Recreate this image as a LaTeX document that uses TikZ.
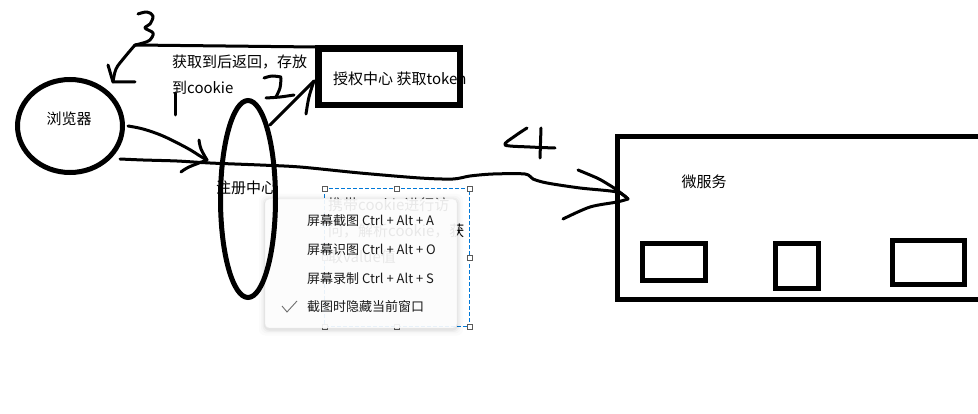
\documentclass[tikz,border=0pt]{standalone}
\usepackage{fontspec}
\setmainfont{Noto Sans CJK SC}
\usetikzlibrary{shapes.geometric}
\definecolor{selblue}{RGB}{0,120,215}
\definecolor{handlegray}{RGB}{90,90,90}
\definecolor{menutext}{RGB}{26,26,26}
\definecolor{checkgray}{RGB}{110,110,110}
\begin{document}
\begin{tikzpicture}[x=1pt,y=-1pt,
  hand/.style={line width=3pt,line cap=round,line join=round},
  thickbox/.style={draw,line width=5pt,inner sep=0pt},
  lbl/.style={font=\fontsize{15}{18}\selectfont,inner sep=0pt},
  menuitem/.style={font=\fontsize{13}{15}\selectfont,text=menutext,inner sep=0pt,anchor=west},
  handle/.style={draw=handlegray,fill=white,line width=0.8pt,minimum size=5pt,inner sep=0pt},
  seldash/.style={draw=selblue,line width=0.9pt,dash pattern=on 4pt off 2pt}
]
\useasboundingbox[fill=white] (0,0) rectangle (978,414);

% selection box with text being edited (below the menu)
\node[lbl,anchor=west] (t1) at (328,205) {携带cookie进行访};
\node[lbl,anchor=west] (t2) at (328,231) {问，解析cookie，获};
\node[lbl,anchor=west] (t3) at (328,257) {取value值};
\coordinate (s1) at (324.5,188.5);
\coordinate (s2) at (469.5,326.5);
\draw[seldash] (s1) rectangle (s2);
\foreach \p/\n in {{(324.5,188.5)}/h1,{(397,188.5)}/h2,{(469.5,188.5)}/h3,{(469.5,257.5)}/h4,{(469.5,326.5)}/h5,{(397,326.5)}/h6,{(324.5,326.5)}/h7,{(324.5,257.5)}/h8}
  \node[handle] (\n) at \p {};

% context menu
\foreach \e/\o in {6/0.015,4/0.02,2.5/0.03,1.2/0.04}
  \fill[black,opacity=\o,rounded corners=6pt] (265-\e,199-\e+1) rectangle (457+\e,328+\e+1.5);
\node[draw=black!8,fill=white,fill opacity=0.91,rounded corners=4pt,minimum width=192pt,minimum height=129pt,inner sep=0pt] (menu) at (361,263.5) {};
\node[menuitem] (m1) at (307,221) {屏幕截图 Ctrl + Alt + A};
\node[menuitem] (m2) at (307,250) {屏幕识图 Ctrl + Alt + O};
\node[menuitem] (m3) at (307,279) {屏幕录制 Ctrl + Alt + S};
\node[menuitem] (m4) at (307,307) {截图时隐藏当前窗口};
\coordinate (c1) at (282,306);
\coordinate (c2) at (287,312);
\coordinate (c3) at (297,301);
\draw[checkgray,line width=0.9pt] (c1) -- (c2) -- (c3);

% main shapes
\node[ellipse,draw,line width=5pt,minimum width=105pt,minimum height=93pt,inner sep=0pt] (browser) at (70,126) {};
\node[ellipse,draw,line width=5pt,minimum width=55pt,minimum height=197pt,inner sep=0pt] (reg) at (248,199) {};
\node[thickbox,line width=6.5pt,minimum width=141.5pt,minimum height=56.5pt] (auth) at (389.25,76.75) {};
\node[thickbox,minimum width=372.5pt,minimum height=163pt] (ms) at (803.75,218.5) {};
\node[thickbox,minimum width=63pt,minimum height=37pt] (b1) at (674,262) {};
\node[thickbox,minimum width=43pt,minimum height=45pt] (b2) at (797,266) {};
\node[thickbox,minimum width=72pt,minimum height=44pt] (b3) at (928.5,262.5) {};

% labels
\node[lbl] (lb) at (69,119) {浏览器};
\node[lbl] (lr) at (246,188) {注册中心};
\node[lbl,anchor=west] (la) at (333,79) {授权中心 获取token};
\node[lbl] (lm) at (704,182) {微服务};
\node[lbl,anchor=west] (n1) at (172,62) {获取到后返回，存放};
\node[lbl,anchor=west] (n2) at (172,88) {到cookie};

% hand drawn strokes
% arrow 1: browser -> register centre
\coordinate (a1s) at (128,126);
\coordinate (a1e) at (207,160);
\draw[hand] plot[smooth,tension=0.6] coordinates {(a1s) (143,129) (163,136) (187,148) (200,156) (a1e)};
\draw[hand] plot[smooth,tension=0.6] coordinates {(199,140) (201,149) (a1e)};
\draw[hand] plot[smooth,tension=0.6] coordinates {(181,172) (189,167) (a1e)};
% digit 1
\coordinate (d1a) at (175,93);
\coordinate (d1b) at (175,115);
\draw[hand] (d1a) -- (d1b);

% arrow 2: register centre -> auth
\coordinate (a2s) at (270,125);
\coordinate (a2e) at (314,81);
\draw[hand] (a2s) -- (a2e);
\draw[hand] plot[smooth,tension=0.6] coordinates {(306,114) (309,97) (a2e)};
% digit 2
\draw[hand] plot[smooth,tension=0.5] coordinates {(264,78) (272,76) (281,77)};
\draw[hand] plot[smooth,tension=0.5] coordinates {(281,78) (280,88) (276,97)};
\draw[hand] plot[smooth,tension=0.5] coordinates {(266,98) (280,97) (294,95)};

% arrow 3: auth -> browser
\coordinate (a3s) at (316,47);
\coordinate (a3m) at (135,45);
\coordinate (a3e) at (113,82);
\draw[hand] (a3s) -- (a3m);
\draw[hand] plot[smooth,tension=0.6] coordinates {(a3m) (124,58) (116,69) (a3e)};
\draw[hand] (108,65) -- (a3e) -- (135,82);
% digit 3
\draw[hand] plot[smooth,tension=0.6] coordinates {(138,14) (147,12) (153,16) (150,24) (145,28) (153,33) (150,40) (143,43) (a3m)};

% arrow 4: browser -> micro service (long curve)
\coordinate (a4s) at (120,159);
\coordinate (a4e) at (628,199);
\draw[hand] plot[smooth,tension=0.5] coordinates {(a4s) (143,160) (177,161) (210,163) (260,165) (300,167) (360,173) (420,178) (453,179) (470,176) (493,174) (525,174) (533,179) (547,183) (580,188) (617,192) (a4e)};
\draw[hand] plot[smooth,tension=0.5] coordinates {(578,170) (597,178) (606,183) (617,190) (a4e)};
\draw[hand] plot[smooth,tension=0.5] coordinates {(563,219) (590,207) (617,202) (a4e)};
% digit 4
\draw[hand] plot[smooth,tension=0.5] coordinates {(527,128) (515,136) (505,145) (530,147) (555,148)};
\draw[hand] (541,128) -- (540,158);
\end{tikzpicture}
\end{document}
